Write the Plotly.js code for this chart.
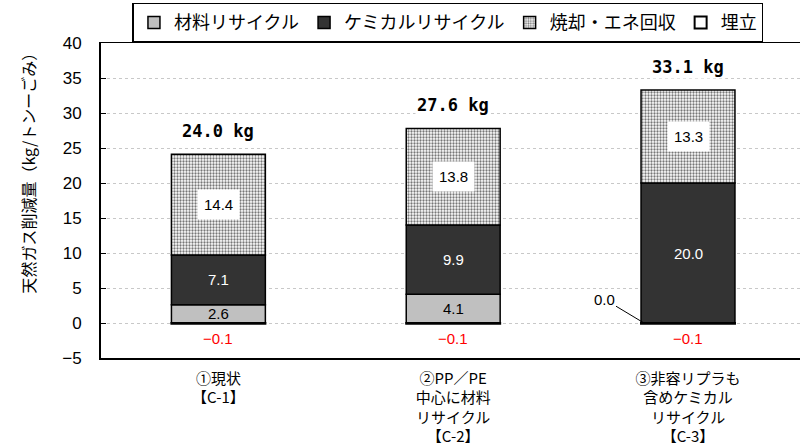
<!DOCTYPE html>
<html>
<head>
<meta charset="utf-8">
<script src="https://cdn.plot.ly/plotly-3.0.1.min.js"></script>
<style>html,body{margin:0;padding:0;background:#fff;}#chart{width:800px;height:445px;}</style>
</head>
<body>
<div id="chart"></div>
<script>
// ---- data ----
const categories = [
  '①現状<br>【C-1】',
  '②PP／PE<br>中心に材料<br>リサイクル<br>【C-2】',
  '③非容リプラも<br>含めケミカル<br>リサイクル<br>【C-3】'
];
const seriesNames = ['材料リサイクル', 'ケミカルリサイクル', '焼却・エネ回収', '埋立'];
const material = [2.6, 4.1, 0.0];
const chemical = [7.1, 9.9, 20.0];
const incineration = [14.4, 13.8, 13.3];
const landfill = [-0.1, -0.1, -0.1];
const totals = [24.0, 27.6, 33.1];
const totalLabels = ['24.0 kg', '27.6 kg', '33.1 kg'];
const yTitle = '天然ガス削減量（kg/トンーごみ）';

const JP = '"Noto Sans CJK JP", "Noto Sans", sans-serif';
const AR = '"Liberation Sans", Arial, sans-serif';
const outline = {color: '#000', width: 1.5};
const BW = 0.4;

const traces = [
  {type: 'bar', name: seriesNames[0], x: categories, y: material, width: BW,
   marker: {color: '#c0c0c0', line: outline}, hoverinfo: 'y'},
  {type: 'bar', name: seriesNames[1], x: categories, y: chemical, width: BW,
   marker: {color: '#333333', line: outline}, hoverinfo: 'y'},
  {type: 'bar', name: seriesNames[2], x: categories, y: incineration, width: BW,
   marker: {color: '#ffffff', line: outline,
            pattern: {shape: '.', fgcolor: '#777777', bgcolor: '#ffffff', size: 3, solidity: 0.45}},
   hoverinfo: 'y'},
  {type: 'bar', name: seriesNames[3], x: categories, y: landfill, width: BW,
   marker: {color: '#ffffff', line: {color: '#000', width: 2}}, hoverinfo: 'y'}
];

const ann = [];
for (let i = 0; i < categories.length; i++) {
  // material
  if (material[i] > 0) {
    ann.push({x: i, y: material[i] / 2, text: material[i].toFixed(1), showarrow: false,
      font: {family: AR, size: 15, color: '#000'}});
  } else {
    ann.push({x: i, y: 0, xshift: -44, text: material[i].toFixed(1), showarrow: true,
      arrowhead: 0, arrowwidth: 1, arrowcolor: '#000', ax: -40, ay: -24, standoff: 0,
      font: {family: AR, size: 15, color: '#000'}});
  }
  // chemical
  ann.push({x: i, y: material[i] + chemical[i] / 2, text: chemical[i].toFixed(1), showarrow: false,
    font: {family: AR, size: 15, color: '#ffffff'}});
  // incineration
  ann.push({x: i, y: material[i] + chemical[i] + incineration[i] / 2, text: incineration[i].toFixed(1),
    showarrow: false, bgcolor: '#ffffff', borderpad: 6,
    font: {family: AR, size: 15, color: '#000'}});
  // landfill
  ann.push({x: i, y: landfill[i], yanchor: 'top', yshift: -4, text: '−' + Math.abs(landfill[i]).toFixed(1),
    showarrow: false, font: {family: AR, size: 15, color: '#ff0000'}});
  // totals
  ann.push({x: i, y: material[i] + chemical[i] + incineration[i], yanchor: 'bottom', yshift: 11,
    text: '<b>' + totalLabels[i] + '</b>', showarrow: false, bgcolor: '#ffffff',
    font: {family: '"DejaVu Sans Mono", monospace', size: 17, color: '#000'}});
}
// y-axis title
ann.push({xref: 'paper', yref: 'paper', x: -0.125, y: 0.6, text: yTitle, textangle: -90,
  showarrow: false, font: {family: JP, size: 16, color: '#000'}});

const layout = {
  width: 800, height: 445,
  margin: {l: 101, r: 0, t: 43, b: 87},
  paper_bgcolor: '#ffffff', plot_bgcolor: '#ffffff',
  barmode: 'relative',
  showlegend: true,
  legend: {orientation: 'h', x: 0.045, xanchor: 'left', y: 1.128, yanchor: 'top',
    bordercolor: '#000', borderwidth: 1.5, bgcolor: '#ffffff',
    font: {family: JP, size: 18, color: '#000'}, traceorder: 'normal', itemwidth: 30},
  xaxis: {type: 'category', range: [-0.5, 2.477], showline: true, mirror: true,
    linecolor: '#000', linewidth: 1.5, ticks: '', showgrid: false, zeroline: false,
    tickfont: {family: JP, size: 15, color: '#000'}, ticklabelstandoff: 6},
  xaxis2: {type: 'category', overlaying: 'x', matches: 'x', anchor: 'free', position: 5 / 45,
    categoryarray: categories, categoryorder: 'array',
    showline: true, linecolor: '#333', linewidth: 1.5, ticks: 'inside', ticklen: 4,
    tickcolor: '#333', tickson: 'boundaries', showticklabels: false, showgrid: false, zeroline: false},
  yaxis: {range: [-5, 40], dtick: 5, tick0: 0, showline: true, linecolor: '#000', linewidth: 2,
    ticks: 'inside', ticklen: 5, tickcolor: '#000', showgrid: true, gridcolor: '#c8c8c8',
    griddash: 'dot', gridwidth: 1, zeroline: false,
    tickfont: {family: AR, size: 17, color: '#000'}, ticklabelstandoff: 14},
  annotations: ann
};

Plotly.newPlot('chart', traces, layout, {displayModeBar: false, staticPlot: true});
</script>
</body>
</html>
